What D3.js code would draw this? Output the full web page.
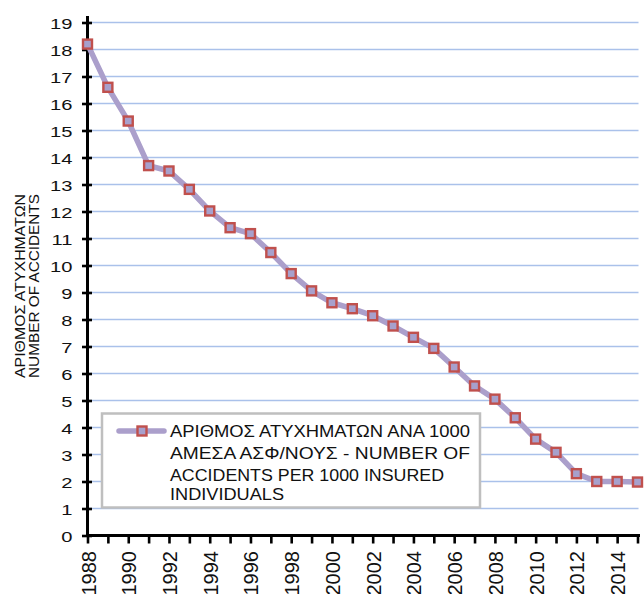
<!DOCTYPE html>
<html>
<head>
<meta charset="utf-8">
<script src="https://cdn.jsdelivr.net/npm/d3@7"></script>
<style>
  html, body { margin: 0; padding: 0; background: #fff; }
  svg { display: block; }
  text { font-family: "Liberation Sans", Arial, sans-serif; fill: #111; }
</style>
</head>
<body>
<svg id="chart" width="644" height="594"></svg>
<script>
// ---- data ----
const years = [1988,1989,1990,1991,1992,1993,1994,1995,1996,1997,1998,1999,2000,2001,
               2002,2003,2004,2005,2006,2007,2008,2009,2010,2011,2012,2013,2014,2015];
const accidents = [18.2,16.6,15.35,13.7,13.5,12.82,12.02,11.4,11.18,10.48,9.7,9.06,8.62,8.4,
                   8.14,7.76,7.34,6.93,6.24,5.54,5.05,4.36,3.57,3.08,2.29,2.0,2.0,1.98];
const yTicks = [0,1,2,3,4,5,6,7,8,9,10,11,12,13,14,15,16,17,18,19];
const xLabelYears = [1988,1990,1992,1994,1996,1998,2000,2002,2004,2006,2008,2010,2012,2014];
const yTitleLines = ["ΑΡΙΘΜΟΣ ΑΤΥΧΗΜΑΤΩΝ", "NUMBER OF ACCIDENTS"];
const legendLines = ["ΑΡΙΘΜΟΣ ΑΤΥΧΗΜΑΤΩΝ ΑΝΑ 1000", "ΑΜΕΣΑ ΑΣΦ/ΝΟΥΣ - NUMBER OF",
                     "ACCIDENTS PER 1000 INSURED", "INDIVIDUALS"];

// ---- layout ----
const svg = d3.select("#chart");
const x0 = 87.5, x1 = 637.5, gridRight = 638.5, axisRight = 640;
const yBottom = 535.5, yTop = 22.5;

const x = d3.scaleLinear().domain([1988, 2015]).range([x0, x1]);
const y = d3.scaleLinear().domain([0, 19]).range([yBottom, yTop]);

const lineColor = "#ab9fcb";
const markerStroke = "#c0504d";
const markerFill = "#a7a0cc";

// gridlines
svg.append("g").selectAll("line")
  .data(yTicks.filter(d => d > 0))
  .join("line")
  .attr("x1", x0).attr("x2", gridRight)
  .attr("y1", d => y(d)).attr("y2", d => y(d))
  .attr("stroke", "#aac1ea").attr("stroke-width", 1.6);

// y axis
const yAxis = d3.axisLeft(y).tickValues(yTicks).tickSize(0).tickFormat(d3.format("d"));
const gy = svg.append("g").attr("transform", `translate(${x0},0)`).call(yAxis);
gy.select(".domain").remove();
gy.selectAll(".tick text").remove();
gy.selectAll(".tick").append("line")
  .attr("x1", -5.5).attr("x2", 4.5)
  .attr("stroke", "#000").attr("stroke-width", 2.6);
gy.selectAll(".tick").append("text")
  .attr("text-anchor", "end")
  .attr("transform", "translate(-15,5.5) scale(1.3,1)")
  .style("font-size", "15.5px")
  .text(d => d);

// x axis
const xAxis = d3.axisBottom(x).tickValues(years).tickSize(0).tickFormat("");
const gx = svg.append("g").attr("transform", `translate(0,${yBottom})`).call(xAxis);
gx.select(".domain").remove();
gx.selectAll(".tick").append("line")
  .attr("y1", -1).attr("y2", 8)
  .attr("stroke", "#000").attr("stroke-width", 2.6);
gx.selectAll(".tick").filter(d => xLabelYears.includes(d)).append("text")
  .attr("text-anchor", "end")
  .attr("transform", "translate(7.5,15.5) rotate(-90)")
  .style("font-size", "20px")
  .text(d => d);

// axis lines
svg.append("line").attr("x1", x0).attr("x2", x0).attr("y1", 16).attr("y2", yBottom + 1)
  .attr("stroke", "#000").attr("stroke-width", 3);
svg.append("line").attr("x1", x0 - 1.5).attr("x2", axisRight).attr("y1", yBottom).attr("y2", yBottom)
  .attr("stroke", "#000").attr("stroke-width", 3);

// y title
const yt = svg.append("text")
  .attr("transform", "translate(0,286) rotate(-90)")
  .attr("text-anchor", "middle")
  .style("font-size", "14.5px");
yt.selectAll("tspan").data(yTitleLines).join("tspan")
  .attr("x", 0).attr("y", (d, i) => 25 + i * 14)
  .attr("textLength", 184).attr("lengthAdjust", "spacingAndGlyphs")
  .text(d => d);

// series line
const line = d3.line().x((d, i) => x(years[i])).y(d => y(d));
svg.append("path").datum(accidents)
  .attr("d", line)
  .attr("fill", "none").attr("stroke", lineColor).attr("stroke-width", 5.5)
  .attr("stroke-linejoin", "round");

// markers
svg.append("g").selectAll("rect").data(accidents).join("rect")
  .attr("x", (d, i) => x(years[i]) - 4.5)
  .attr("y", d => y(d) - 4.5)
  .attr("width", 9).attr("height", 9)
  .attr("fill", markerFill).attr("stroke", markerStroke).attr("stroke-width", 2.4);

// legend
const lg = svg.append("g");
lg.append("rect").attr("x", 102).attr("y", 413.5).attr("width", 378).attr("height", 94)
  .attr("fill", "#fff").attr("stroke", "#bfbfbf").attr("stroke-width", 2.5);
lg.append("line").attr("x1", 119).attr("x2", 164).attr("y1", 431).attr("y2", 431)
  .attr("stroke", lineColor).attr("stroke-width", 5.5).attr("stroke-linecap", "round");
lg.append("rect").attr("x", 137.5).attr("y", 426.5).attr("width", 9).attr("height", 9)
  .attr("fill", markerFill).attr("stroke", markerStroke).attr("stroke-width", 2.4);
const legendWidths = [300, 300, 274, 114];
lg.append("g").selectAll("text").data(legendLines).join("text")
  .attr("x", 170)
  .attr("y", (d, i) => [437.3, 459.3, 480.7, 500][i])
  .attr("textLength", (d, i) => legendWidths[i])
  .attr("lengthAdjust", "spacingAndGlyphs")
  .style("font-size", "17px")
  .text(d => d);
</script>
</body>
</html>
